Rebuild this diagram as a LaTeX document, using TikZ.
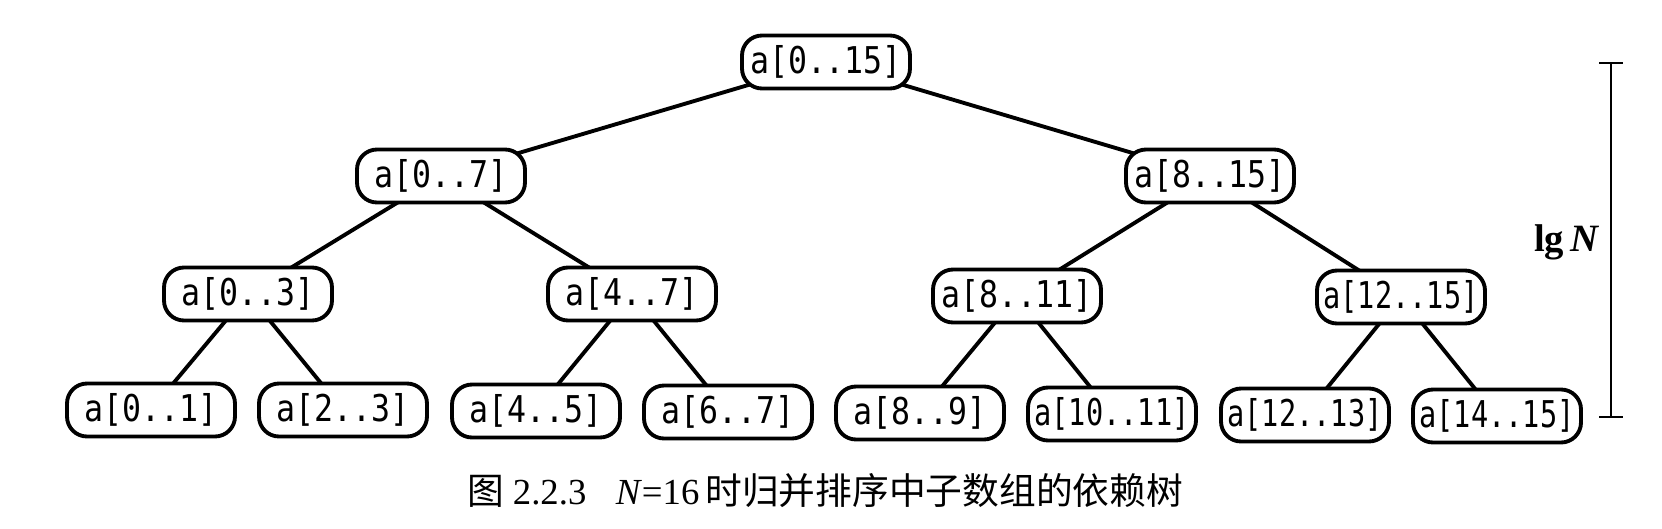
\documentclass[tikz,border=0pt]{standalone}
\usepackage{fontspec}
\setmainfont{Liberation Serif}
\newfontfamily\cjk{Noto Sans CJK SC}
\newfontfamily\boxfont[FakeStretch=0.855]{DejaVu Sans Mono}
\newfontfamily\boxfontnarrow[FakeStretch=0.775]{DejaVu Sans Mono}
\usetikzlibrary{backgrounds}

\begin{document}
\begin{tikzpicture}[
    box/.style={draw, line width=1.1pt, fill=white, rounded corners=0.2cm,
        minimum width=1.68cm, minimum height=0.53cm, inner sep=0pt,
        font=\boxfont\fontsize{10.5}{12}\selectfont},
    narrow/.style={font=\boxfontnarrow\fontsize{10.5}{12}\selectfont},
    edge/.style={line width=1.1pt}]
    \useasboundingbox (0,0) rectangle (16.62,-5.28);

    % root and first level
    \node[box] (a015) at (8.26,-0.62) {a[0..15]};
    \node[box] (a07)  at (4.41,-1.76) {a[0..7]};
    \node[box] (a815) at (12.10,-1.76) {a[8..15]};

    % second level
    \node[box] (a03)  at (2.48,-2.94) {a[0..3]};
    \node[box] (a47)  at (6.32,-2.94) {a[4..7]};
    \node[box] (a811) at (10.17,-2.96) {a[8..11]};
    \node[box, narrow] (a1215) at (14.01,-2.97) {a[12..15]};

    % leaves
    \node[box] (a01)  at (1.51,-4.10) {a[0..1]};
    \node[box] (a23)  at (3.43,-4.10) {a[2..3]};
    \node[box] (a45)  at (5.36,-4.11) {a[4..5]};
    \node[box] (a67)  at (7.28,-4.12) {a[6..7]};
    \node[box] (a89)  at (9.20,-4.13) {a[8..9]};
    \node[box, narrow] (a1011) at (11.12,-4.14) {a[10..11]};
    \node[box, narrow] (a1213) at (13.05,-4.15) {a[12..13]};
    \node[box, narrow] (a1415) at (14.97,-4.16) {a[14..15]};

    \begin{scope}[on background layer]
        \draw[edge] (a015.center) -- (a07.center);
        \draw[edge] (a015.center) -- (a815.center);
        \draw[edge] (a07.center) -- (a03.center);
        \draw[edge] (a07.center) -- (a47.center);
        \draw[edge] (a815.center) -- (a811.center);
        \draw[edge] (a815.center) -- (a1215.center);
        \draw[edge] (a03.center) -- (a01.center);
        \draw[edge] (a03.center) -- (a23.center);
        \draw[edge] (a47.center) -- (a45.center);
        \draw[edge] (a47.center) -- (a67.center);
        \draw[edge] (a811.center) -- (a89.center);
        \draw[edge] (a811.center) -- (a1011.center);
        \draw[edge] (a1215.center) -- (a1213.center);
        \draw[edge] (a1215.center) -- (a1415.center);
    \end{scope}

    % height bar
    \coordinate (bartop) at (16.11,-0.63);
    \coordinate (barbot) at (16.11,-4.17);
    \draw[line width=0.6pt] (bartop) -- (barbot);
    \draw[line width=0.6pt] ([xshift=-0.12cm]bartop) -- ([xshift=0.12cm]bartop);
    \draw[line width=0.6pt] ([xshift=-0.12cm]barbot) -- ([xshift=0.12cm]barbot);
    \node (lgN) at (15.67,-2.42) {\fontsize{11}{12}\selectfont\textbf{lg}\,\textbf{\textit{N}}};

    \node (caption) at (8.25,-4.91) {\fontsize{10.45}{12}\selectfont{\cjk 图}~2.2.3\hspace{0.8em}\textit{N}=16\,{\cjk 时归并排序中子数组的依赖树}};
\end{tikzpicture}
\end{document}
